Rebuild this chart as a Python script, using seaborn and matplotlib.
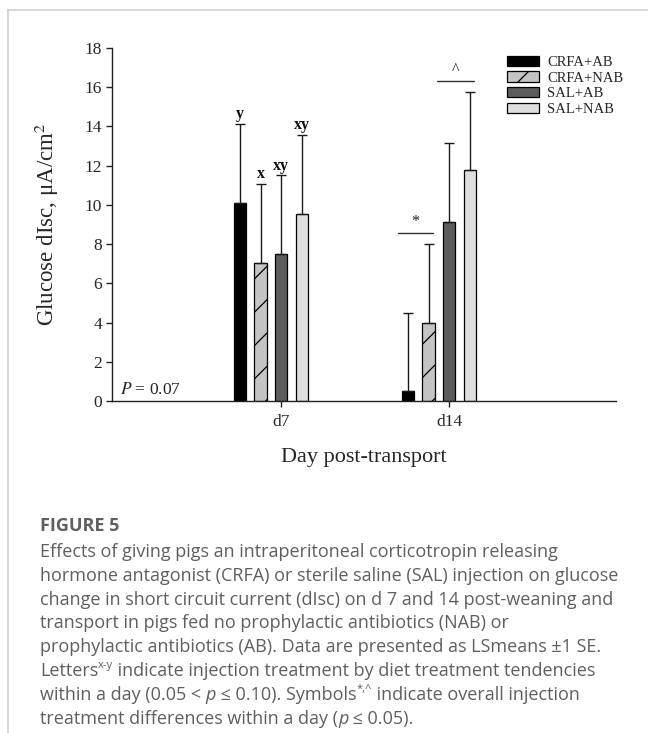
import numpy as np
import pandas as pd
import matplotlib
matplotlib.use("Agg")
import matplotlib.pyplot as plt
import matplotlib.colors as mcolors
from matplotlib.lines import Line2D
import seaborn as sns

# ---------------- data ----------------
days = ["d7", "d14"]
treatments = ["CRFA+AB", "CRFA+NAB", "SAL+AB", "SAL+NAB"]
mean_d7 = [10.10, 7.05, 7.50, 9.55]
mean_d14 = [0.50, 3.98, 9.15, 11.76]
se_d7 = [4.03, 4.02, 4.00, 4.02]
se_d14 = [4.00, 4.02, 4.01, 4.01]
letters_d7 = ["y", "x", "xy", "xy"]
yticks = [0, 2, 4, 6, 8, 10, 12, 14, 16, 18]
colors = {"CRFA+AB": "#000000", "CRFA+NAB": "#c4c4c4",
          "SAL+AB": "#5c5c5c", "SAL+NAB": "#dedede"}

df = pd.DataFrame({
    "day": np.repeat(days, len(treatments)),
    "treatment": treatments * len(days),
    "mean": mean_d7 + mean_d14,
    "se": se_d7 + se_d14,
})

sns.set_theme(style="ticks")
plt.rcParams["font.family"] = ["Liberation Serif", "DejaVu Serif"]
plt.rcParams["mathtext.fontset"] = "stix"
plt.rcParams["hatch.linewidth"] = 0.9

W, H = 648, 733
fig = plt.figure(figsize=(W / 100, H / 100), dpi=100)
fig.patch.set_facecolor("white")
ax = fig.add_axes([112 / W, 1 - 401 / H, 504 / W, 353 / H])

sns.barplot(data=df, x="day", y="mean", hue="treatment", order=days,
            hue_order=treatments, palette=colors, saturation=1,
            width=0.49, gap=0.39, errorbar=None, edgecolor="black",
            linewidth=0.9, legend=False, ax=ax)

# map containers to treatments by facecolor
cont_by_trt = {}
for cont in ax.containers:
    fc = mcolors.to_hex(cont.patches[0].get_facecolor())
    for t, c in colors.items():
        if mcolors.to_hex(c) == fc:
            cont_by_trt[t] = cont
for bar in cont_by_trt["CRFA+NAB"].patches:
    bar.set_hatch("/")

# error bars (upper only)
xs, ys, es = [], [], []
bar_info = {}
for t in treatments:
    for bar in cont_by_trt[t].patches:
        xc = bar.get_x() + bar.get_width() / 2
        d = days[int(round(xc))]
        row = df[(df.day == d) & (df.treatment == t)].iloc[0]
        xs.append(xc); ys.append(row["mean"]); es.append(row["se"])
        bar_info[(d, t)] = (bar.get_x(), bar.get_x() + bar.get_width(), xc,
                            row["mean"] + row["se"])
ax.errorbar(xs, ys, yerr=[np.zeros(len(es)), es], fmt="none",
            ecolor="#1a1a1a", elinewidth=1.0, capsize=3.8, capthick=1.0,
            zorder=3)

# letters on d7
for t, L in zip(treatments, letters_d7):
    x0, x1, xc, top = bar_info[("d7", t)]
    ax.text(xc, top + 0.08, L, ha="center", va="bottom", fontsize=11.5,
            fontweight="bold", color="#111111")

# significance lines on d14
def sig(tl, tr, sym, dx0=0.025, dx1=0.01):
    xa = bar_info[("d14", tl)][0] - dx0
    xb = bar_info[("d14", tr)][1] - dx1
    top = max(bar_info[("d14", tl)][3], bar_info[("d14", tr)][3]) + 0.57
    ax.plot([xa, xb], [top, top], color="#333333", lw=1.0)
    ax.text((xa + xb) / 2, top + 0.15, sym, ha="center", va="bottom",
            fontsize=11.5, color="#222222")

sig("CRFA+AB", "CRFA+NAB", "*")
sig("SAL+AB", "SAL+NAB", "^", dx0=0.036)

ax.text(-0.90, 0.55, "$P$ = 0.07", fontsize=12.5, va="center", ha="left")

# axes styling
ax.set_xlim(-0.946, 2.054)
ax.set_ylim(0, 18)
ax.set_yticks(yticks)
ax.set_yticklabels([str(v) for v in yticks])
tick_x = [bar_info[(d, "SAL+AB")][2] for d in days]
ax.set_xticks(tick_x)
ax.set_xticklabels(days)
for s in ["top", "right"]:
    ax.spines[s].set_visible(False)
for s in ["left", "bottom"]:
    ax.spines[s].set_linewidth(1.0)
    ax.spines[s].set_color("#222222")
ax.tick_params(axis="both", direction="out", length=4, width=1.0,
               labelsize=12.5, color="#222222", pad=3)
ax.tick_params(axis="x", pad=5)
ax.set_ylabel("Glucose dIsc, μA/cm$^2$", fontsize=16.5, labelpad=17)
ax.set_xlabel("Day post-transport", fontsize=16, labelpad=13)

ax.legend(handles=[cont_by_trt[t] for t in treatments], labels=treatments,
          loc="upper left", bbox_to_anchor=(0.784, 0.978), frameon=False,
          fontsize=10.5, handlelength=2.2, handleheight=0.72,
          handletextpad=0.55, labelspacing=0.16, borderpad=0,
          borderaxespad=0)

# page border
fig.add_artist(Line2D([8 / W, 8 / W], [0, 1 - 10 / H], color="#d0d0d0",
                      lw=1.2, transform=fig.transFigure))
fig.add_artist(Line2D([8 / W, 1], [1 - 10 / H, 1 - 10 / H], color="#d0d0d0",
                      lw=1.2, transform=fig.transFigure))

# caption
gray = "#5f5f5f"
cap_font = "Open Sans"
cap_size = 13.0
fig.text(40 / W, 1 - 531 / H, "FIGURE 5", fontsize=13, fontweight="bold",
         color=gray, family=cap_font, va="baseline", ha="left")

renderer = fig.canvas.get_renderer()

def draw_line(segs, y_px):
    x = 40 / W
    for s, st in segs:
        kw = dict(fontsize=cap_size, color=gray, family=cap_font,
                  va="baseline", ha="left")
        yy = 1 - y_px / H
        if st == "i":
            kw["style"] = "italic"
        if st == "sup":
            kw["fontsize"] = 8
            yy = 1 - (y_px - 8) / H
        t = fig.text(x, yy, s, **kw)
        x += t.get_window_extent(renderer).width / W

lines = [
    [("Effects of giving pigs an intraperitoneal corticotropin releasing", "n")],
    [("hormone antagonist (CRFA) or sterile saline (SAL) injection on glucose", "n")],
    [("change in short circuit current (dIsc) on d 7 and 14 post-weaning and", "n")],
    [("transport in pigs fed no prophylactic antibiotics (NAB) or", "n")],
    [("prophylactic antibiotics (AB). Data are presented as LSmeans ±1 SE.", "n")],
    [("Letters", "n"), ("x-y", "sup"),
     (" indicate injection treatment by diet treatment tendencies", "n")],
    [("within a day (0.05 < ", "n"), ("p", "i"), (" ≤ 0.10). Symbols", "n"),
     ("*,^", "sup"), (" indicate overall injection", "n")],
    [("treatment differences within a day (", "n"), ("p", "i"),
     (" ≤ 0.05).", "n")],
]
base0 = 557
step = 23.8
for i, segs in enumerate(lines):
    draw_line(segs, base0 + i * step)

fig.savefig("out.png", dpi=100, facecolor="white")
